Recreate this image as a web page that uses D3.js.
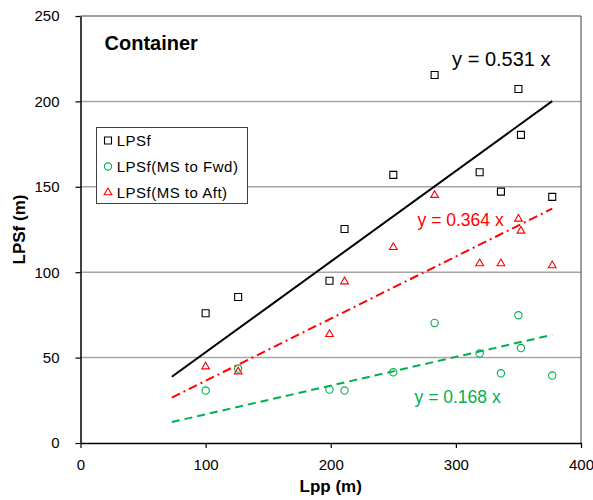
<!DOCTYPE html>
<html>
<head>
<meta charset="utf-8">
<script src="https://cdn.jsdelivr.net/npm/d3@7"></script>
<style>
  body { margin: 0; background: #fff; }
  text { font-family: Arial, "Liberation Sans", sans-serif; }
</style>
</head>
<body>
<script>
// ship data: Lpp vs LPSf and its fore / aft parts (m)
var lpp  = [100, 126, 199, 211, 250, 283, 319, 336, 350, 352, 377];
var lpsf = [76, 85.5, 95, 125.3, 157, 215.5, 158.5, 147.2, 207.3, 180.4, 144.1];
var fwd  = [30.7, 43.6, 31.3, 30.7, 41.4, 70.3, 52.4, 40.8, 74.8, 55.6, 39.5];
var aft  = [44.7, 41.8, 63.7, 94.5, 114.6, 145.1, 105.1, 105.1, 131.2, 124.2, 103.9];

var seriesNames = ["LPSf", "LPSf(MS to Fwd)", "LPSf(MS to Aft)"];
var slopes = [0.531, 0.168, 0.364];
var fitRange = [73, 377];
var xTicks = [0, 100, 200, 300, 400];
var yTicks = [0, 50, 100, 150, 200, 250];

var margin = {top: 16, right: 12, bottom: 57, left: 80.5},
    width = 593 - margin.left - margin.right,
    height = 500 - margin.top - margin.bottom;

var svg = d3.select("body").append("svg")
  .attr("width", 593)
  .attr("height", 500);

var g = svg.append("g")
  .attr("transform", "translate(" + margin.left + "," + margin.top + ")");

var x = d3.scaleLinear().domain([0, 400]).range([0, width]);
var y = d3.scaleLinear().domain([0, 250]).range([height, 0]);

var colors = ["#000000", "#00b050", "#ff0000"];
var dashes = [null, "8,5", "9,4,2,4"];

// gridlines
g.append("g").selectAll("line")
  .data(yTicks.filter(function(d) { return d > 0 && d < 250; }))
  .enter().append("line")
  .attr("x1", 0).attr("x2", width)
  .attr("y1", function(d) { return y(d); })
  .attr("y2", function(d) { return y(d); })
  .attr("stroke", "#a6a6a6")
  .attr("stroke-width", 1.5);

// frame top/right
g.append("path")
  .attr("d", "M0," + y(250) + "H" + x(400) + "V" + y(0))
  .attr("fill", "none")
  .attr("stroke", "#404040")
  .attr("stroke-width", 1);

// axes
var xAxis = g.append("g")
  .attr("transform", "translate(0," + height + ")")
  .call(d3.axisBottom(x).tickValues(xTicks).tickSize(5).tickPadding(11).tickSizeOuter(0));
var yAxis = g.append("g")
  .call(d3.axisLeft(y).tickValues(yTicks).tickSize(5).tickPadding(16).tickSizeOuter(0));

[xAxis, yAxis].forEach(function(a) {
  a.select(".domain").attr("stroke", "#000").attr("stroke-width", 1.5);
  a.selectAll(".tick line").attr("stroke", "#000").attr("stroke-width", 1.2);
  a.selectAll(".tick text")
    .attr("fill", "#000")
    .style("font-size", "15px")
    .style("font-family", "Arial, 'Liberation Sans', sans-serif");
});

// trend lines y = a x
var line = d3.line()
  .x(function(d) { return x(d[0]); })
  .y(function(d) { return y(d[1]); });

slopes.forEach(function(s, i) {
  g.append("path")
    .datum(fitRange.map(function(v) { return [v, s * v]; }))
    .attr("d", line)
    .attr("fill", "none")
    .attr("stroke", colors[i])
    .attr("stroke-width", 2)
    .attr("stroke-dasharray", dashes[i]);
});

// markers
var symSize = [49, 42, 26];
var symTypes = [d3.symbolSquare, d3.symbolCircle, d3.symbolTriangle];
var allSeries = [lpsf, fwd, aft];

function drawMarker(sel, i) {
  sel.attr("d", d3.symbol().type(symTypes[i]).size(symSize[i]))
    .attr("fill", "#fff")
    .attr("fill-opacity", i == 0 ? 1 : 0)
    .attr("stroke", colors[i])
    .attr("stroke-width", 1.1);
}

[1, 2, 0].forEach(function(i) {
  g.append("g").selectAll("path")
    .data(allSeries[i])
    .enter().append("path")
    .attr("transform", function(d, j) { return "translate(" + x(lpp[j]) + "," + y(d) + ")"; })
    .call(drawMarker, i);
});

// equation labels
var eqLabels = [
  {text: "y = 0.531 x", lx: 297, ly: 221, size: 20},
  {text: "y = 0.168 x", lx: 267, ly: 23.4, size: 17.5},
  {text: "y = 0.364 x", lx: 269.4, ly: 126.9, size: 17.5}
];
eqLabels.forEach(function(d, i) {
  g.append("text")
    .attr("x", x(d.lx))
    .attr("y", y(d.ly))
    .attr("fill", colors[i])
    .style("font-size", d.size + "px")
    .text(d.text);
});

// title
svg.append("text")
  .attr("x", 104.5)
  .attr("y", 49.5)
  .style("font-size", "20px")
  .style("font-weight", "bold")
  .text("Container");

// axis titles
svg.append("text")
  .attr("x", margin.left + width / 2)
  .attr("y", 492)
  .attr("text-anchor", "middle")
  .style("font-size", "17px")
  .style("font-weight", "bold")
  .text("Lpp (m)");

svg.append("text")
  .attr("transform", "translate(25," + (margin.top + height / 2) + ") rotate(-90)")
  .attr("text-anchor", "middle")
  .style("font-size", "17px")
  .style("font-weight", "bold")
  .text("LPSf (m)");

// legend
var legend = svg.append("g").attr("transform", "translate(96,127)");
legend.append("rect")
  .attr("x", 0.5).attr("y", 0.5)
  .attr("width", 151).attr("height", 76)
  .attr("fill", "#fff")
  .attr("stroke", "#404040")
  .attr("stroke-width", 1);

var item = legend.selectAll(".item")
  .data(seriesNames)
  .enter().append("g")
  .attr("class", "item")
  .attr("transform", function(d, i) { return "translate(0," + (13.5 + i * 26) + ")"; });

item.append("path")
  .attr("transform", "translate(12,0)")
  .each(function(d, i) { d3.select(this).call(drawMarker, i); });

item.append("text")
  .attr("x", 20.7)
  .attr("y", 5.3)
  .style("font-size", "15px")
  .style("letter-spacing", "0.5px")
  .text(function(d) { return d; });
</script>
</body>
</html>
